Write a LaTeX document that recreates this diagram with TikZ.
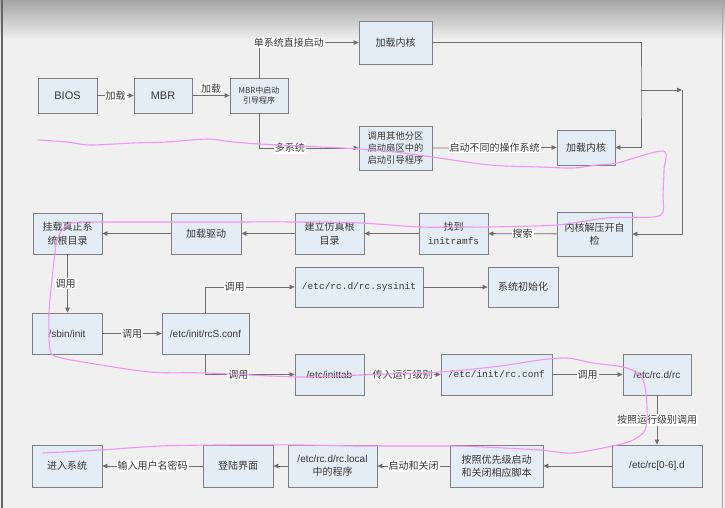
\documentclass[tikz,border=0pt]{standalone}
\usepackage{fontspec}
\setmainfont{Noto Sans CJK SC}
\newfontfamily\lat{Liberation Sans}
\newfontfamily\mono{Liberation Mono}
\usetikzlibrary{arrows.meta}
\definecolor{bg}{RGB}{240,240,240}
\definecolor{gtop}{RGB}{165,165,165}
\definecolor{boxfill}{RGB}{228,236,246}
\definecolor{boxline}{RGB}{128,128,128}
\definecolor{linec}{RGB}{110,110,110}
\definecolor{txt}{RGB}{55,55,55}
\definecolor{pink}{RGB}{240,150,240}
\tikzset{
  box/.style={draw=boxline, fill=boxfill, line width=0.8pt, inner sep=1pt, align=center, text=txt,
    font=\fontsize{10}{13.5}\selectfont},
  conn/.style={draw=linec, line width=0.8pt, -{Triangle[length=5pt,width=4.5pt]}},
  plain/.style={draw=linec, line width=0.8pt},
  lbl/.style={fill=white, inner sep=1pt, text=txt, font=\fontsize{10}{12}\selectfont},
  latf/.style={font=\lat\fontsize{10}{12}\selectfont},
  monof/.style={font=\mono\fontsize{9.5}{12}\selectfont},
}
\begin{document}
\begin{tikzpicture}[x=1pt,y=-1pt]
\useasboundingbox (0,0) rectangle (725,508);
\fill[bg] (0,0) rectangle (725,508);
\shade[top color=gtop, bottom color=bg] (0,0) rectangle (725,40);
\draw[draw=black!60, line width=2pt] (1.5,0) -- (1.5,508);
\draw[draw=black!35, line width=1pt] (722.5,0) -- (722.5,508);

% row 1
\node[box, minimum width=59pt, minimum height=35pt, font=\lat\fontsize{11}{13}\selectfont] (bios) at (67.5,95.5) {BIOS};
\node[box, minimum width=58pt, minimum height=35pt, font=\lat\fontsize{11}{13}\selectfont] (mbr) at (163,95.5) {MBR};
\node[box, minimum width=58pt, minimum height=35pt, font=\fontsize{8}{9.5}\selectfont] (boot) at (259,95.5) {MBR中启动\\引导程序};
\node[box, minimum width=73pt, minimum height=43pt] (k1) at (395.5,42.5) {加载内核};
\node[box, minimum width=73pt, minimum height=44pt, font=\fontsize{9.3}{12}\selectfont] (other) at (395.5,148) {调用其他分区\\启动扇区中的\\启动引导程序};
\node[box, minimum width=58pt, minimum height=35pt] (k2) at (586,147.5) {加载内核};

% row 2
\node[box, minimum width=75pt, minimum height=44pt] (unz) at (594.5,234) {内核解压开自\\检};
\node[box, minimum width=69pt, minimum height=41pt] (find) at (453.5,233.5) {找到\\{\mono\fontsize{9.5}{12}\selectfont initramfs}};
\node[box, minimum width=69pt, minimum height=41pt] (fake) at (329.5,233.5) {建立仿真根\\目录};
\node[box, minimum width=70pt, minimum height=41pt] (drv) at (206,233.5) {加载驱动};
\node[box, minimum width=69pt, minimum height=41pt] (mount) at (67.5,233.5) {挂载真正系\\统根目录};

% row 3
\node[box, minimum width=70pt, minimum height=41pt, latf] (sbin) at (67,333.5) {/sbin/init};
\node[box, minimum width=87pt, minimum height=41pt, latf] (rcs) at (205.5,333.5) {/etc/init/rcS.conf};
\node[box, minimum width=128pt, minimum height=40pt, monof] (sysinit) at (359,287) {/etc/rc.d/rc.sysinit};
\node[box, minimum width=70pt, minimum height=40pt] (sysini2) at (523,287) {系统初始化};
\node[box, minimum width=69pt, minimum height=41pt, latf] (inittab) at (329.5,374.5) {/etc/inittab};
\node[box, minimum width=111pt, minimum height=41pt, monof] (rcconf) at (496.5,374.5) {/etc/init/rc.conf};
\node[box, minimum width=68pt, minimum height=41pt, latf] (rcrc) at (657,374.5) {/etc/rc.d/rc};

% row 4
\node[box, minimum width=90pt, minimum height=42pt, latf] (rc06) at (657,466) {/etc/rc[0-6].d};
\node[box, minimum width=93pt, minimum height=42pt] (prio) at (496.5,466) {按照优先级启动\\和关闭相应脚本};
\node[box, minimum width=89pt, minimum height=42pt] (local) at (332.5,466) {{\lat /etc/rc.d/rc.local}\\中的程序};
\node[box, minimum width=70pt, minimum height=42pt] (login) at (238,466) {登陆界面};
\node[box, minimum width=70pt, minimum height=42pt] (enter) at (67,466) {进入系统};

% connectors
\draw[conn] (bios) -- (mbr) node[lbl, midway] {加载};
\draw[conn] (mbr) -- (boot) node[lbl, midway, yshift=7pt] {加载};
\draw[conn] (boot.north) |- (k1.west) node[lbl, pos=0.65] {单系统直接启动};
\draw[conn] (boot.south) |- (other.west) node[lbl, pos=0.655] {多系统};
\draw[conn] (other.east) -- (k2.west) node[lbl, midway] {启动不同的操作系统};
\coordinate (mj) at (641,90);
\coordinate (mr) at (682,90);
\draw[conn] (k1.east) -| (mj) |- (k2.east);
\draw[conn] (mj) -- (mr);
\draw[conn] (mr) |- (unz.east);
\draw[conn] (unz) -- (find) node[lbl, midway] {搜索};
\draw[conn] (find) -- (fake);
\draw[conn] (fake) -- (drv);
\draw[conn] (drv) -- (mount);
\draw[conn] (mount) -- (mount |- sbin.north) node[lbl, midway, xshift=-2pt] {调用};
\draw[conn] (sbin) -- (rcs) node[lbl, midway] {调用};
\draw[conn] (rcs.north) |- (sysinit.west) node[lbl, pos=0.663] {调用};
\draw[conn] (sysinit) -- (sysini2);
\draw[conn] (rcs.south) |- (inittab.west) node[lbl, pos=0.685] {调用};
\draw[conn] (inittab) -- (rcconf) node[lbl, midway] {传入运行级别};
\draw[conn] (rcconf) -- (rcrc) node[lbl, midway] {调用};
\draw[conn] (rcrc) -- (rc06) node[lbl, midway] {按照运行级别调用};
\draw[conn] (rc06) -- (prio);
\draw[conn] (prio) -- (local) node[lbl, midway] {启动和关闭};
\draw[conn] (local) -- (login);
\draw[conn] (login) -- (enter) node[lbl, midway] {输入用户名密码};

% pink freehand annotation
\draw[pink, line width=1.1pt, line cap=round] plot[smooth, tension=0.5] coordinates {
(38,140) (67,142) (90,145) (133,143) (167,142) (207,139) (233,142) (260,144) (300,146) (360,149)
(395,152) (432,157) (490,165) (540,167) (573,168) (597,165) (617,163) (663,151)
(664,170) (663,195) (663,212) (653,217) (607,218) (557,225) (488,227) (468,227) (420,227)
(360,223) (300,222) (200,222) (100,222) (80,222) (67,225) (57,240) (52,280) (49,313) (50,350)
(58,357) (83,362) (150,372) (207,373) (300,377) (360,375) (441,372) (500,366) (540,360)
(567,358) (593,363) (627,368) (643,380) (647,407) (645,430) (633,440) (617,445) (573,453)
(540,450) (483,447) (450,446) (360,446) (300,445) (220,445) (160,446) (100,450) (43,453)};
\end{tikzpicture}
\end{document}
